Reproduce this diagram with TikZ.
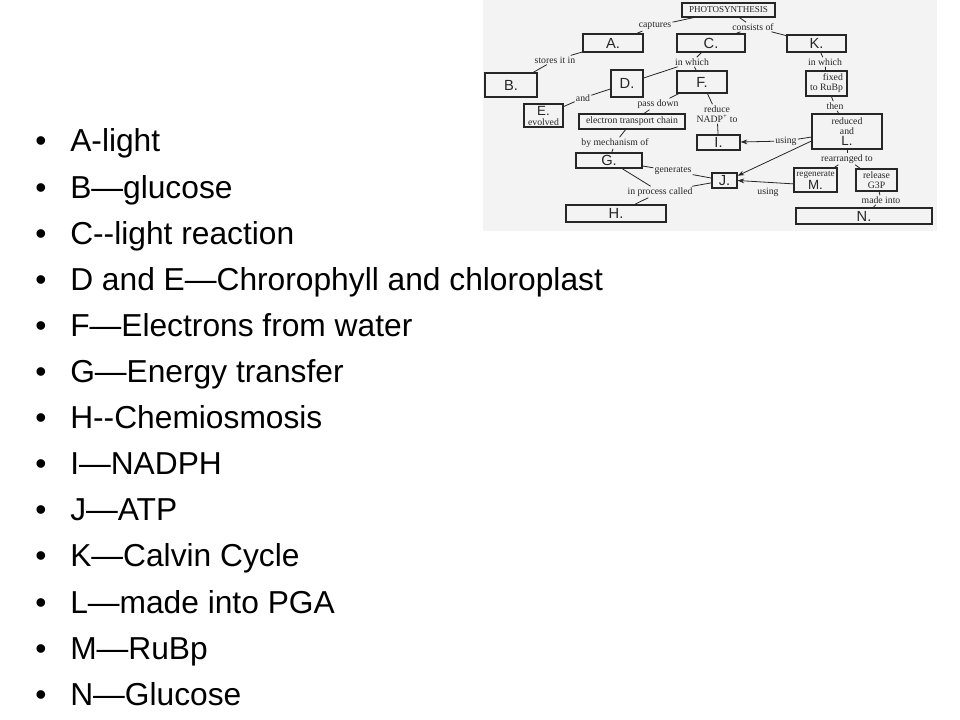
\documentclass[tikz,border=0pt]{standalone}
\usepackage{fontspec}
\usetikzlibrary{arrows.meta}
\newfontfamily\arialf{Liberation Sans}
\newfontfamily\handf{Liberation Sans}
\newfontfamily\labf{Liberation Serif}
\definecolor{photobg}{HTML}{F3F3F3}
\definecolor{inkc}{HTML}{262626}
\begin{document}
\begin{tikzpicture}[x=0.75pt,y=-0.75pt,
  cbox/.style={draw=inkc, line width=0.85pt, inner sep=0pt, align=center, font=\labf\fontsize{7.3}{7.5}\selectfont, text=inkc},
  lab/.style={inner sep=0.8pt, align=center, font=\labf\fontsize{7.3}{7.5}\selectfont, text=inkc},
  conn/.style={draw=inkc, line width=0.6pt},
  arr/.style={draw=inkc, line width=0.6pt, -{Stealth[length=5pt,width=3.6pt]}},
  letter/.style={font=\handf\fontsize{11}{11}\selectfont},
  bul/.style={anchor=base west, font=\arialf\fontsize{23.8}{28}\selectfont, inner sep=0pt}
]
\useasboundingbox (0,0) rectangle (960,720);
\fill[white] (0,0) rectangle (960,720);
\fill[photobg] (483,0) rectangle (937,231);

% boxes
\node[cbox, minimum width=69.75pt, minimum height=10.5pt, font=\labf\fontsize{6.8}{7}\selectfont] (P) at (728.5,10) {PHOTOSYNTHESIS};
\node[cbox, minimum width=45pt, minimum height=13.5pt, letter] (A) at (613,43) {A.};
\node[cbox, minimum width=39pt, minimum height=18pt, letter] (B) at (511,85) {B.};
\node[cbox, minimum width=51pt, minimum height=13.5pt, letter] (C) at (711,43) {C.};
\node[cbox, minimum width=44.25pt, minimum height=12.75pt, letter] (K) at (816.5,43.5) {K.};
\node[cbox, minimum width=24pt, minimum height=20.25pt, letter] (D) at (627,83.5) {D.};
\node[cbox, minimum width=37.5pt, minimum height=16.5pt, letter] (F) at (702,82) {F.};
\node[cbox, minimum width=29.25pt, minimum height=17.25pt] (E) at (543.5,115.5) {{\handf\fontsize{10}{8.5}\selectfont E.}\\evolved};
\node[cbox, minimum width=79.5pt, minimum height=11.25pt] (T) at (632,121.5) {electron transport chain};
\node[cbox, minimum width=49.5pt, minimum height=11.25pt, letter] (G) at (609,160.5) {G.};
\node[cbox, minimum width=75pt, minimum height=12.75pt, letter] (H) at (616,213.5) {H.};
\node[cbox, minimum width=32.25pt, minimum height=11.25pt, letter] (I) at (718.5,142.5) {I.};
\node[cbox, minimum width=18.75pt, minimum height=11.25pt, letter] (J) at (724.5,180.5) {J.};
\node[cbox, minimum width=30.75pt, minimum height=18.75pt, align=right] (X) at (826.5,83.5) {fixed\\to RuBp};
\node[cbox, minimum width=52.5pt, minimum height=26.25pt] (L) at (847,131.5) {reduced\\and\\[0.6pt]{\handf\fontsize{10}{8}\selectfont L.}};
\node[cbox, minimum width=32.25pt, minimum height=18pt, font=\labf\fontsize{6.9}{7.5}\selectfont] (M) at (815.5,180) {regenerate\\[0.4pt]{\handf\fontsize{10}{8}\selectfont M.}};
\node[cbox, minimum width=30.75pt, minimum height=16.5pt] (R) at (876.5,180) {release\\G3P};
\node[cbox, minimum width=102pt, minimum height=12pt, letter] (N) at (864,216) {N.};

% labels
\node[lab] (l1) at (655,26) {captures};
\node[lab] (l2) at (555,60) {stores it in};
\node[lab] (l3) at (753,27) {consists of};
\node[lab] (l4) at (692,62) {in which};
\node[lab] (l5) at (825,62) {in which};
\node[lab] (l6) at (583,98) {and};
\node[lab] (l7) at (658,104) {pass down};
\node[lab] (l8) at (717,114) {reduce\\NADP\textsuperscript{+} to};
\node[lab] (l9) at (615,143) {by mechanism of};
\node[lab] (l10) at (673,171) {generates};
\node[lab] (l11) at (660,192) {in process called};
\node[lab] (l12) at (835,106) {then};
\node[lab] (l13) at (786,141) {using};
\node[lab] (l14) at (768,192) {using};
\node[lab] (l15) at (847,159) {rearranged to};
\node[lab] (l16) at (881,200) {made into};

% connectors
\draw[conn] (P) -- (l1);
\draw[conn] (l1) -- (A);
\draw[conn] (A) -- (l2);
\draw[conn] (l2) -- (B);
\draw[conn] (P) -- (l3);
\draw[conn] (l3) -- (C);
\draw[conn] (l3) -- (K);
\draw[conn] (C) -- (l4);
\draw[conn] (l4) -- (D);
\draw[conn] (l4) -- (F);
\draw[conn] (D) -- (l6);
\draw[conn] (l6) -- (E);
\draw[conn] (F) -- (l7);
\draw[conn] (l7) -- (T);
\draw[conn] (F) -- (l8);
\draw[conn] (l8) -- (I);
\draw[conn] (T) -- (l9);
\draw[conn] (l9) -- (G);
\draw[conn] (G) -- (l10);
\draw[conn] (l10) -- (J);
\draw[conn] (G) -- (l11);
\draw[conn] (J) -- (l11);
\draw[conn] (l11) -- (H);
\draw[conn] (K) -- (l5);
\draw[conn] (l5) -- (X);
\draw[conn] (X) -- (l12);
\draw[conn] (l12) -- (L);
\draw[conn] (L) -- (l13);
\draw[arr] (l13) -- (I);
\draw[arr] (L.195) -- (J.20);
\draw[arr] (M.190) -- (J.east);
\draw[conn] (L) -- (l15);
\draw[conn] (l15) -- (M);
\draw[conn] (l15) -- (R);
\draw[conn] (R) -- (l16);
\draw[conn] (l16) -- (N);

% bullet list
\foreach \t [count=\i from 0] in {A-light,B—glucose,C--light reaction,D and E—Chrorophyll and chloroplast,F—Electrons from water,G—Energy transfer,H--Chemiosmosis,I—NADPH,J—ATP,K—Calvin Cycle,L—made into PGA,M—RuBp,N—Glucose}{
  \node[bul] (b\i) at (35,152+46.1*\i) {•};
  \node[bul] (t\i) at (70,152+46.1*\i) {\t};
}
\end{tikzpicture}
\end{document}
